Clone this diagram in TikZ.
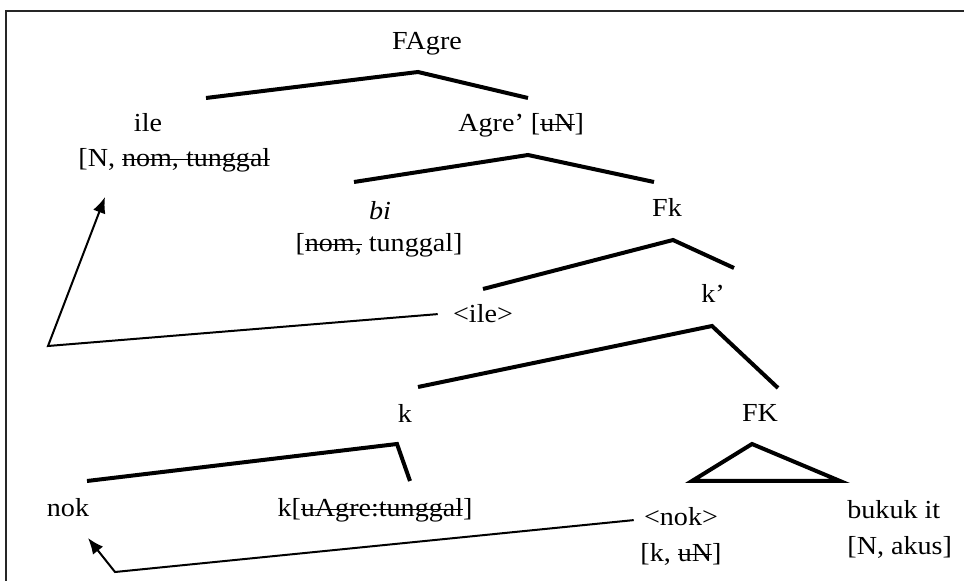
\documentclass[tikz,border=0pt]{standalone}
\usepackage{fontspec}
\setmainfont{Liberation Serif}[FakeStretch=1.08]
\usetikzlibrary{arrows.meta}

\newcommand\strk[1]{\setbox0\hbox{#1}\rlap{\rule[0.27em]{\wd0}{0.7pt}}\box0\relax}

\tikzset{
  lbl/.style={anchor=base, inner sep=0pt, font=\fontsize{13}{15}\selectfont},
  branch/.style={line width=2pt, line join=miter},
  move/.style={line width=1pt, -{Latex[length=8pt,width=6.5pt]}},
}

\begin{document}
\begin{tikzpicture}[x=0.5pt, y=-0.5pt]
  \useasboundingbox (0,0) rectangle (964,581);
  % frame
  \draw[line width=1pt, black!85] (6,581) -- (6,11) -- (964,11);

  % labels
  \node[lbl] (fagre) at (427,50) {FAgre};
  \node[lbl] (ile) at (148,132) {ile};
  \node[lbl, anchor=base west] (ilefeat) at (78,167) {[N, \strk{nom, tunggal}};
  \node[lbl, anchor=base west] (agre) at (458,132) {Agre’ [\strk{uN}]};
  \node[lbl] (bi) at (380,220) {\textit{bi}};
  \node[lbl] (bifeat) at (379,252) {[\strk{nom,} tunggal]};
  \node[lbl] (fk) at (667,217) {Fk};
  \node[lbl] (iletrace) at (483,323) {<ile>};
  \node[lbl] (kbar) at (713,303) {k’};
  \node[lbl] (k) at (405,423) {k};
  \node[lbl] (fK) at (760,422) {FK};
  \node[lbl] (nok) at (68,517) {nok};
  \node[lbl] (khead) at (375,517) {k[\strk{uAgre:tunggal}]};
  \node[lbl] (noktrace) at (681,526) {<nok>};
  \node[lbl] (noktracefeat) at (681,562) {[k, \strk{uN}]};
  \node[lbl, anchor=base west] (bukuk) at (847,519) {bukuk it};
  \node[lbl, anchor=base west] (bukukfeat) at (847,555) {[N, akus]};

  % branch points
  \coordinate (fagre-l) at (206,98);
  \coordinate (fagre-t) at (418,72);
  \coordinate (fagre-r) at (528,98);
  \coordinate (agre-l) at (354,182);
  \coordinate (agre-t) at (528,155);
  \coordinate (agre-r) at (654,182);
  \coordinate (fk-l) at (483,289);
  \coordinate (fk-t) at (673,240);
  \coordinate (fk-r) at (734,268);
  \coordinate (kbar-l) at (418,387);
  \coordinate (kbar-t) at (712,326);
  \coordinate (kbar-r) at (778,388);
  \coordinate (k-l) at (87,481);
  \coordinate (k-t) at (397,444);
  \coordinate (k-r) at (410,481);
  \coordinate (fK-l) at (692,481);
  \coordinate (fK-t) at (752,444);
  \coordinate (fK-r) at (840,481);

  % branches
  \draw[branch] (fagre-l) -- (fagre-t) -- (fagre-r);
  \draw[branch] (agre-l) -- (agre-t) -- (agre-r);
  \draw[branch] (fk-l) -- (fk-t) -- (fk-r);
  \draw[branch] (kbar-l) -- (kbar-t) -- (kbar-r);
  \draw[branch] (k-l) -- (k-t) -- (k-r);
  \draw[branch] (fK-l) -- (fK-t) -- (fK-r) -- cycle;

  % movement arrows
  \coordinate (ile-turn) at (48,346);
  \coordinate (ile-tip) at (105,197);
  \coordinate (nok-turn) at (115,572);
  \coordinate (nok-tip) at (88,538);
  \draw[move] ([xshift=-7.5pt]iletrace.west) -- (ile-turn) -- (ile-tip);
  \draw[move] ([xshift=-5pt,yshift=-1.5pt]noktrace.west) -- (nok-turn) -- (nok-tip);
\end{tikzpicture}
\end{document}
